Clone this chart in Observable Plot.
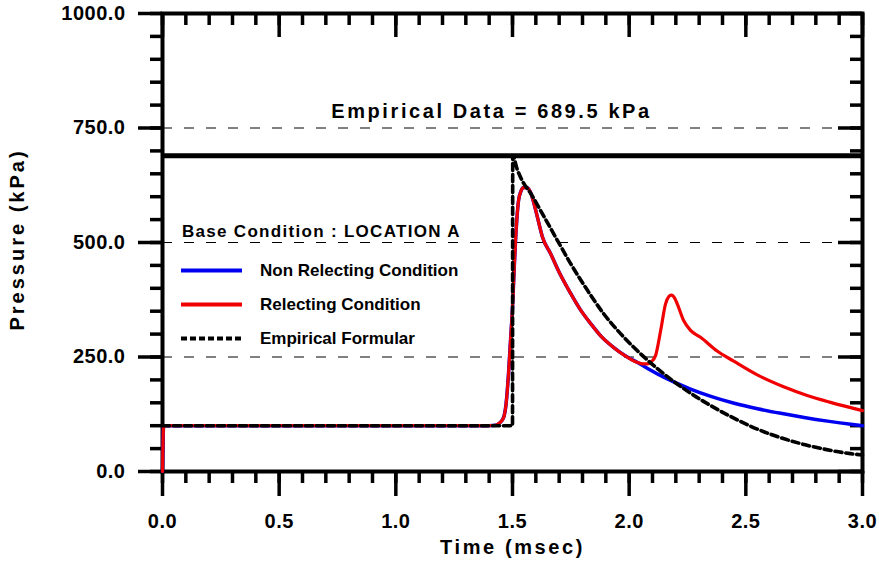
<!DOCTYPE html>
<html><head><meta charset="utf-8">
<script src="https://cdn.jsdelivr.net/npm/d3@7"></script>
<script src="https://cdn.jsdelivr.net/npm/@observablehq/plot@0.6"></script>
<style>html,body{margin:0;padding:0;background:#fff;color:#000;} #chart{width:879px;height:563px;}</style>
</head><body><div id="chart"></div>
<script>
const FONT = '"Liberation Sans", Arial, Helvetica, sans-serif';

// ---- tick values ----
const xMajor = [0, 0.5, 1.0, 1.5, 2.0, 2.5, 3.0];
const xMinor = d3.range(0, 31).map(i => i / 10);
const yMajor = [0, 250, 500, 750, 1000];
const yMinor = d3.range(0, 21).map(i => i * 50);
const gridLevels = [250, 500, 750];
const empiricalPeak = 689.5;

// ---- series ----
const relectT = [0, 0.005, 1.40, 1.427, 1.445, 1.462, 1.473, 1.483, 1.492, 1.500, 1.507, 1.513, 1.520, 1.526, 1.537, 1.547, 1.560, 1.577, 1.592, 1.607, 1.629, 1.663, 1.700, 1.749, 1.790, 1.835, 1.880, 1.933, 1.985, 2.036, 2.060, 2.079, 2.095, 2.113, 2.135, 2.156, 2.170, 2.180, 2.192, 2.206, 2.234, 2.263, 2.306, 2.377, 2.448, 2.549, 2.662, 2.763, 2.863, 3.0];
const relectP = [0, 100, 100, 101, 106, 118, 150, 214, 290, 358, 440, 504, 560, 592, 613, 620, 620, 610, 585, 555, 511, 476, 435, 389, 354, 323, 295, 271, 252, 238, 235, 235, 240, 253, 308, 366, 382, 385, 381, 366, 329, 308, 293, 263, 241, 211, 185, 166, 151, 133];

const nonRelectT = [0, 0.005, 1.40, 1.427, 1.445, 1.462, 1.473, 1.483, 1.492, 1.500, 1.507, 1.513, 1.520, 1.526, 1.537, 1.547, 1.560, 1.577, 1.592, 1.607, 1.629, 1.663, 1.700, 1.749, 1.790, 1.835, 1.880, 1.933, 1.985, 2.036, 2.079, 2.148, 2.263, 2.350, 2.450, 2.550, 2.650, 2.750, 2.850, 2.950, 3.0];
const nonRelectP = [0, 100, 100, 101, 106, 118, 150, 214, 290, 358, 440, 504, 560, 592, 613, 620, 620, 610, 585, 555, 511, 476, 435, 389, 354, 323, 295, 271, 252, 238, 225, 206, 180, 164, 149, 137, 127, 118, 110, 103, 100];

const empT = [0, 1.500, 1.501, 1.520, 1.547, 1.577, 1.629, 1.693, 1.749, 1.822, 1.890, 1.963, 2.049, 2.120, 2.190, 2.263, 2.349, 2.435, 2.520, 2.619, 2.734, 2.834, 2.949, 3.0];
const empP = [100, 100, 689.5, 660, 630, 608, 562, 504, 454, 395, 345, 301, 257, 225, 197, 171, 144, 120, 99, 79, 61, 49, 39, 36];

const toRows = (ts, ps) => ts.map((t, i) => ({t, p: ps[i]}));
const relect = toRows(relectT, relectP);
const nonRelect = toRows(nonRelectT, nonRelectP);
const empirical = toRows(empT, empP);

const W = 879, H = 563;
const mL = 162, mR = 17, mT = 13, mB = 92;
const plotW = W - mL - mR, plotH = H - mT - mB;
const BLUE = "#0000f0", RED = "#f00000";

const tickStyle = {strokeWidth: 3.5, label: null};
const labelStyle = {fontSize: 20, fontWeight: "bold", fill: "#000", lineAnchor: "middle", textAnchor: "middle"};

const titleText = `Empirical Data = ${empiricalPeak} kPa`;
const xLabel = "Time (msec)";
const yLabel = "Pressure (kPa)";

const plot = Plot.plot({
  width: W, height: H,
  marginLeft: mL, marginRight: mR, marginTop: mT, marginBottom: mB,
  style: {fontFamily: FONT, background: "#fff", color: "#000", overflow: "visible"},
  x: {domain: [0, 3], axis: null},
  y: {domain: [0, 1000], axis: null},
  marks: [
    Plot.ruleY(gridLevels, {stroke: "#000", strokeWidth: 1, strokeDasharray: "10,12"}),
    Plot.ruleY([empiricalPeak], {stroke: "#000", strokeWidth: 5}),
    Plot.frame({stroke: "#000", strokeWidth: 4}),
    Plot.axisY({ticks: yMajor, anchor: "left", tickSize: 24, tickPadding: 13, tickFormat: d3.format(".1f"), fontSize: 20, fontWeight: "bold", ...tickStyle}),
    Plot.axisY({ticks: yMinor, anchor: "left", tickSize: 12, tickFormat: () => "", ...tickStyle}),
    Plot.axisX({ticks: xMajor, anchor: "bottom", tickSize: 25, tickPadding: 17, tickFormat: d3.format(".1f"), fontSize: 20, fontWeight: "bold", ...tickStyle}),
    Plot.axisX({ticks: xMinor, anchor: "bottom", tickSize: 12, tickFormat: () => "", ...tickStyle}),
    Plot.ruleY(yMajor, {insetLeft: plotW - 24, stroke: "#000", strokeWidth: 3.5}),
    Plot.ruleY(yMinor, {insetLeft: plotW - 12, stroke: "#000", strokeWidth: 3.5}),
    Plot.ruleX(xMajor, {insetBottom: plotH - 24, stroke: "#000", strokeWidth: 3.5}),
    Plot.ruleX(xMinor, {insetBottom: plotH - 12, stroke: "#000", strokeWidth: 3.5}),
    Plot.line(nonRelect, {x: "t", y: "p", stroke: BLUE, strokeWidth: 3.5, curve: "monotone-x"}),
    Plot.line(relect, {x: "t", y: "p", stroke: RED, strokeWidth: 3.2, curve: "monotone-x"}),
    Plot.line(empirical, {x: "t", y: "p", stroke: "#000", strokeWidth: 3.6, strokeDasharray: "7,4", curve: "monotone-x"}),
    Plot.text([titleText], {frameAnchor: "top", dx: -21, dy: 98, ...labelStyle}),
    Plot.text([xLabel], {frameAnchor: "bottom", dy: 76, ...labelStyle}),
    Plot.text([yLabel], {frameAnchor: "left", dx: -145, dy: -3, rotate: -90, ...labelStyle})
  ]
});

document.getElementById("chart").appendChild(plot);
const svg = d3.select(plot);
svg.selectAll("text").each(function() {
  const s = this.textContent;
  if (s === titleText || s === xLabel) this.style.letterSpacing = "2.6px";
  else if (s === yLabel) this.style.letterSpacing = "3px";
  else if (/^\d+\.\d$/.test(s)) this.style.letterSpacing = "0.5px";
});

// ---- legend (inside the plot area) ----
const legendItems = [
  {label: "Non Relecting Condition", stroke: BLUE, dash: null},
  {label: "Relecting Condition", stroke: RED, dash: null},
  {label: "Empirical Formular", stroke: "#000", dash: "6,3"}
];
const lg = svg.append("g").attr("font-family", FONT).attr("font-weight", "bold")
  .attr("fill", "#000").attr("text-anchor", "start");
lg.append("text").attr("x", 182).attr("y", 237).attr("font-size", 17)
  .style("letter-spacing", "1.3px").text("Base Condition : LOCATION A");
legendItems.forEach((d, i) => {
  const y = 270.5 + i * 34;
  lg.append("line").attr("x1", 181).attr("x2", 242).attr("y1", y).attr("y2", y)
    .attr("stroke", d.stroke).attr("stroke-width", 4).attr("stroke-dasharray", d.dash);
  lg.append("text").attr("x", 260).attr("y", y).attr("dy", "0.35em").attr("font-size", 17).text(d.label);
});
</script>
</body></html>
